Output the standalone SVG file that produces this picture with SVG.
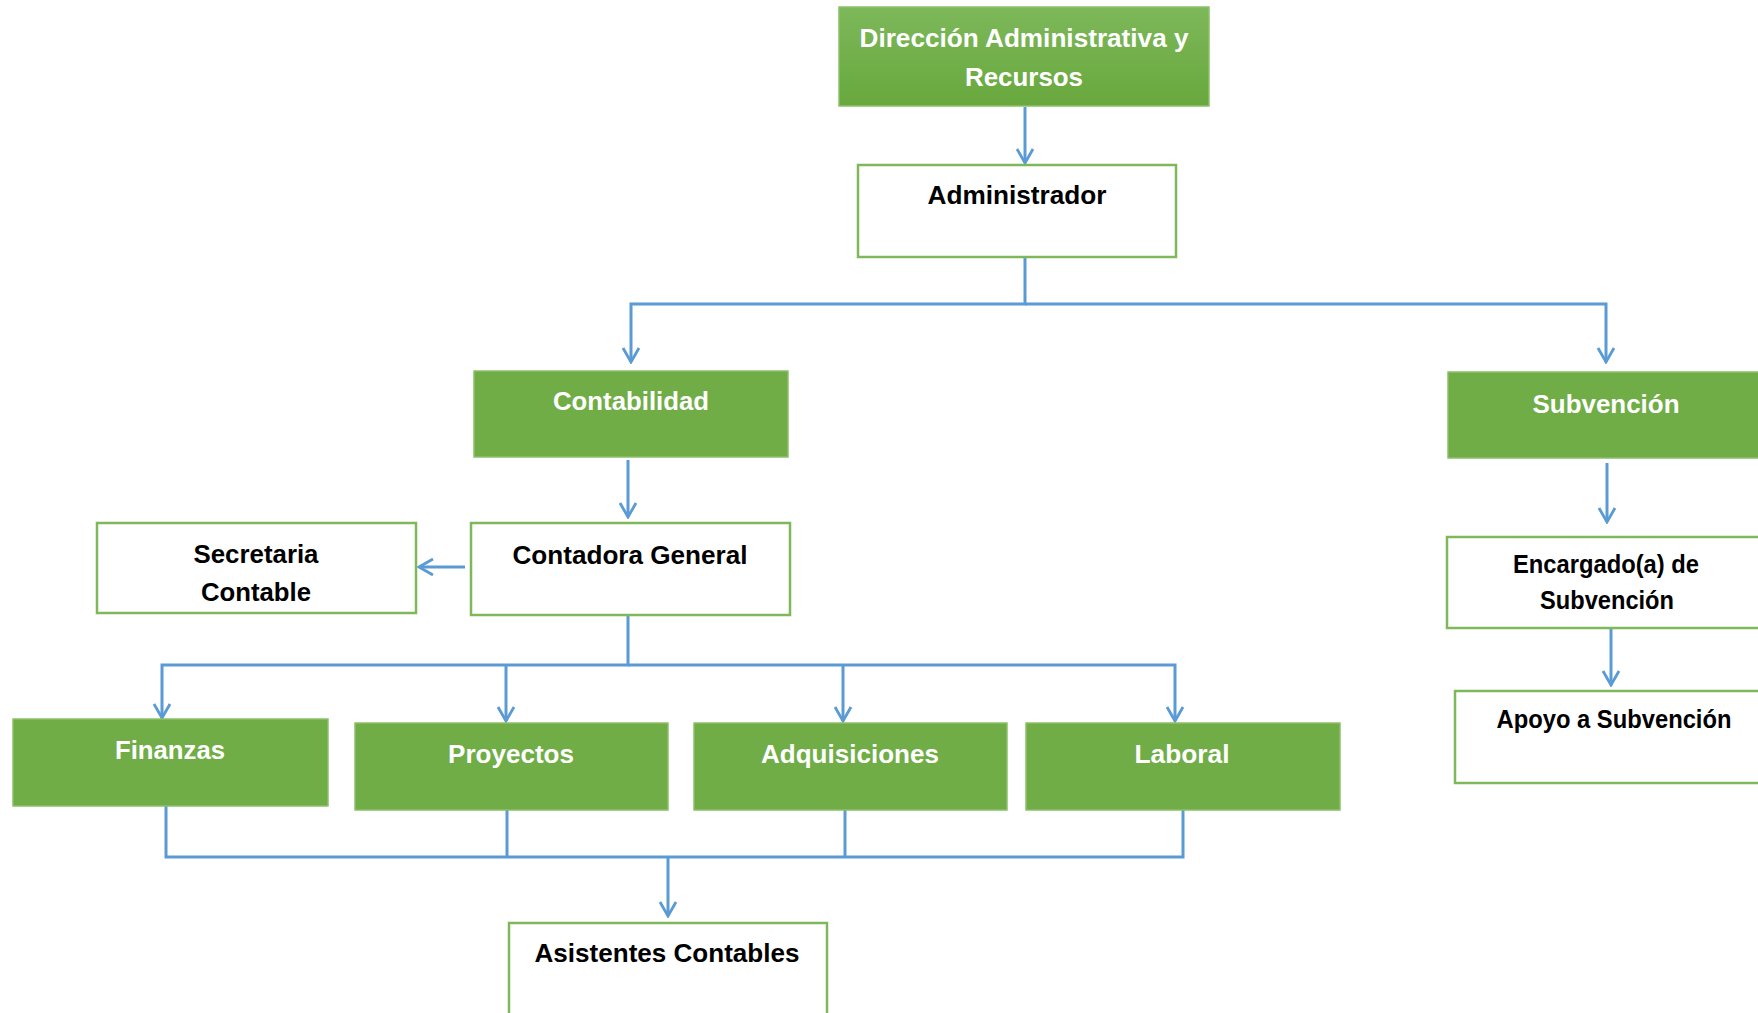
<svg xmlns="http://www.w3.org/2000/svg" width="1758" height="1013" viewBox="0 0 1758 1013">
<style>
.g{fill:#70AD47;stroke:#8CC068;stroke-width:1.5}
.w{fill:#ffffff;stroke:#7FB85A;stroke-width:2.5}
.tw{font-family:"Liberation Sans Narrow","Liberation Sans",Arial,sans-serif;font-weight:bold;font-size:26px;fill:#ffffff;text-anchor:middle}
.tb{font-family:"Liberation Sans Narrow","Liberation Sans",Arial,sans-serif;font-weight:bold;font-size:26px;fill:#000000;text-anchor:middle}
.c{fill:none;stroke:#5B9BD5;stroke-width:3}
</style>
<defs>
<linearGradient id="gt" x1="0" y1="0" x2="0" y2="1">
<stop offset="0" stop-color="#7DB85A"/>
<stop offset="1" stop-color="#68A83D"/>
</linearGradient>
<marker id="ar" viewBox="-16 -10 18 20" refX="0" refY="0" markerWidth="18" markerHeight="20" markerUnits="userSpaceOnUse" orient="auto">
<path d="M-14,-8 L0,0 L-14,8" fill="none" stroke="#5B9BD5" stroke-width="2.8"/>
</marker>
</defs>
<rect width="1758" height="1013" fill="#ffffff"/>
<g id="connectors">
<path class="c" d="M1025,107 V163" marker-end="url(#ar)"/>
<path class="c" d="M1025,257 V304 H631 V362" marker-end="url(#ar)"/>
<path class="c" d="M1025,304 H1606 V362" marker-end="url(#ar)"/>
<path class="c" d="M628,460 V517" marker-end="url(#ar)"/>
<path class="c" d="M465,567 H419" marker-end="url(#ar)"/>
<path class="c" d="M628,615 V665 H162 V718" marker-end="url(#ar)"/>
<path class="c" d="M506,665 V721" marker-end="url(#ar)"/>
<path class="c" d="M843,665 V721" marker-end="url(#ar)"/>
<path class="c" d="M628,665 H1175 V721" marker-end="url(#ar)"/>
<path class="c" d="M166,806 V857 H1183 V810"/>
<path class="c" d="M507,810 V857"/>
<path class="c" d="M845,810 V857"/>
<path class="c" d="M668,857 V916" marker-end="url(#ar)"/>
<path class="c" d="M1607,463 V522" marker-end="url(#ar)"/>
<path class="c" d="M1611,628 V685" marker-end="url(#ar)"/>
</g>
<g id="direccion">
<rect x="839" y="7" width="370" height="99" fill="url(#gt)" stroke="#8CC068" stroke-width="1.5"/>
<text class="tw" x="1024" y="47" textLength="329" lengthAdjust="spacingAndGlyphs">Dirección Administrativa y</text>
<text class="tw" x="1024" y="86" textLength="118" lengthAdjust="spacingAndGlyphs">Recursos</text>
</g>
<g id="administrador">
<rect class="w" x="858" y="165" width="318" height="92"/>
<text class="tb" x="1017" y="204" textLength="179" lengthAdjust="spacingAndGlyphs">Administrador</text>
</g>
<g id="contabilidad">
<rect class="g" x="474" y="371" width="314" height="86"/>
<text class="tw" x="631" y="410" textLength="156" lengthAdjust="spacingAndGlyphs">Contabilidad</text>
</g>
<g id="subvencion">
<rect class="g" x="1448" y="372" width="330" height="86"/>
<text class="tw" x="1606" y="413" textLength="147" lengthAdjust="spacingAndGlyphs">Subvención</text>
</g>
<g id="contadora">
<rect class="w" x="471" y="523" width="319" height="92"/>
<text class="tb" x="630" y="564" textLength="235" lengthAdjust="spacingAndGlyphs">Contadora General</text>
</g>
<g id="secretaria">
<rect class="w" x="97" y="523" width="319" height="90"/>
<text class="tb" x="256" y="563" textLength="125" lengthAdjust="spacingAndGlyphs">Secretaria</text>
<text class="tb" x="256" y="601" textLength="110" lengthAdjust="spacingAndGlyphs">Contable</text>
</g>
<g id="encargado">
<rect class="w" x="1447" y="537" width="330" height="91"/>
<text class="tb" x="1606" y="573" font-size="24" textLength="186" lengthAdjust="spacingAndGlyphs">Encargado(a) de</text>
<text class="tb" x="1607" y="609" font-size="24" textLength="134" lengthAdjust="spacingAndGlyphs">Subvención</text>
</g>
<g id="apoyo">
<rect class="w" x="1455" y="691" width="330" height="92"/>
<text class="tb" x="1614" y="728" font-size="25" textLength="235" lengthAdjust="spacingAndGlyphs">Apoyo a Subvención</text>
</g>
<g id="finanzas">
<rect class="g" x="13" y="719" width="315" height="87"/>
<text class="tw" x="170" y="759" textLength="110" lengthAdjust="spacingAndGlyphs">Finanzas</text>
</g>
<g id="proyectos">
<rect class="g" x="355" y="723" width="313" height="87"/>
<text class="tw" x="511" y="763" textLength="126" lengthAdjust="spacingAndGlyphs">Proyectos</text>
</g>
<g id="adquisiciones">
<rect class="g" x="694" y="723" width="313" height="87"/>
<text class="tw" x="850" y="763" textLength="178" lengthAdjust="spacingAndGlyphs">Adquisiciones</text>
</g>
<g id="laboral">
<rect class="g" x="1026" y="723" width="314" height="87"/>
<text class="tw" x="1182" y="763" textLength="95" lengthAdjust="spacingAndGlyphs">Laboral</text>
</g>
<g id="asistentes">
<rect class="w" x="509" y="923" width="318" height="100"/>
<text class="tb" x="667" y="962" textLength="265" lengthAdjust="spacingAndGlyphs">Asistentes Contables</text>
</g>
</svg>
